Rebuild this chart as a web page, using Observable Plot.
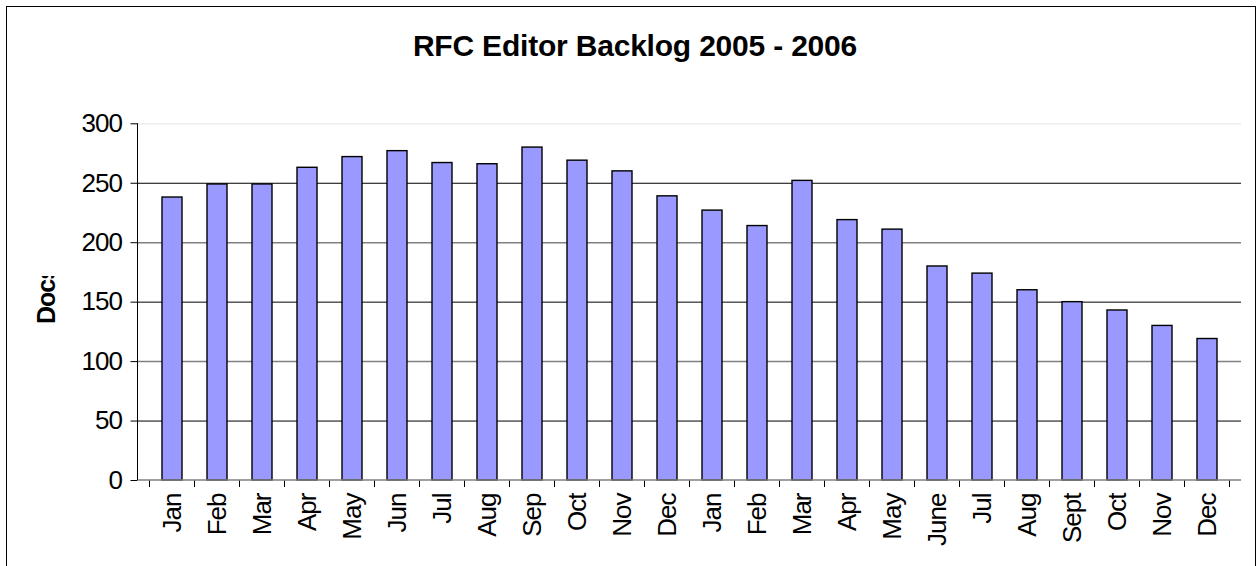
<!DOCTYPE html>
<html><head><meta charset="utf-8">
<script src="https://cdn.jsdelivr.net/npm/d3@7"></script>
<script src="https://cdn.jsdelivr.net/npm/@observablehq/plot@0.6"></script>
<style>
html,body{margin:0;padding:0;background:#fff;overflow:hidden}
#wrap{position:relative;width:1259px;height:566px;font-family:"Liberation Sans",Arial,sans-serif;overflow:hidden}
#frame{position:absolute;left:6px;top:6px;width:1250px;height:620px;border:1.5px solid #000;box-sizing:border-box}
#title{position:absolute;left:0;width:1270px;top:31px;line-height:30px;text-align:center;font-weight:bold;font-size:30px;letter-spacing:-0.2px;color:#000}
#chart{position:absolute;left:0;top:0}
#chart svg text{letter-spacing:-1px}
</style>
</head><body>
<div id="wrap">
  <div id="frame"></div>
  <div id="chart"></div>
  <div id="title">RFC Editor Backlog 2005 - 2006</div>
</div>
<script>
const months2005 = ["Jan","Feb","Mar","Apr","May","Jun","Jul","Aug","Sep","Oct","Nov","Dec"];
const months2006 = ["Jan","Feb","Mar","Apr","May","June","Jul","Aug","Sept","Oct","Nov","Dec"];
const backlog2005 = [238, 249, 249, 263, 272, 277, 267, 266, 280, 269, 260, 239];
const backlog2006 = [227, 214, 252, 219, 211, 180, 174, 160, 150, 143, 130, 119];
const yTicks = [0, 50, 100, 150, 200, 250, 300];
const yLabel = "Docs";

const data = [
  ...months2005.map((m, i) => ({key: "2005-" + m, label: m, value: backlog2005[i]})),
  ...months2006.map((m, i) => ({key: "2006-" + m, label: m, value: backlog2006[i]}))
];
const keys = data.map(d => d.key);
const labelOf = new Map(data.map(d => [d.key, d.label]));

// axis lines and boundary ticks between categories
function axisDecor(index, scales, values, dimensions) {
  const x = scales.x;
  const desc = scales.scales && scales.scales.x;
  const step = desc && desc.step != null ? desc.step : x.step();
  const bw = desc && desc.bandwidth != null ? desc.bandwidth : x.bandwidth();
  const {width, height, marginLeft, marginRight, marginTop, marginBottom} = dimensions;
  const y0 = height - marginBottom;
  const g = d3.create("svg:g");
  const bounds = keys.map(k => x(k) - (step - bw) / 2);
  bounds.push(bounds[bounds.length - 1] + step);
  for (const b of bounds) {
    g.append("line").attr("x1", b).attr("x2", b).attr("y1", y0).attr("y2", y0 + 7)
      .attr("stroke", "#000").attr("stroke-width", 1);
  }
  g.append("line").attr("x1", marginLeft).attr("x2", width - marginRight).attr("y1", y0).attr("y2", y0)
    .attr("stroke", "#808080").attr("stroke-width", 1.5);
  g.append("line").attr("x1", marginLeft).attr("x2", marginLeft).attr("y1", marginTop).attr("y2", y0)
    .attr("stroke", "#000").attr("stroke-width", 1);
  return g.node();
}

const plot = Plot.plot({
  width: 1259,
  height: 566,
  marginLeft: 137.5,
  marginRight: 18,
  marginTop: 123.3,
  marginBottom: 86,
  style: {fontFamily: "'Liberation Sans', Arial, sans-serif", background: "transparent", color: "#000"},
  x: {domain: keys, paddingInner: 0.55, paddingOuter: 0.275, label: null},
  y: {domain: [0, 300], label: null},
  marks: [
    Plot.ruleY(yTicks.filter(v => v === 50 || v === 150 || v === 250), {stroke: "#000", strokeWidth: 1}),
    Plot.ruleY(yTicks.filter(v => v === 100 || v === 200), {stroke: "#808080", strokeWidth: 1.5}),
    Plot.ruleY(yTicks.filter(v => v === 300), {stroke: "#e4e4e4", strokeWidth: 1}),
    Plot.barY(data, {x: "key", y: "value", fill: "#9999ff", stroke: "#000", strokeWidth: 1.4}),
    Plot.axisY({ticks: yTicks, tickSize: 7, tickPadding: 9, fontSize: 26, tickFormat: d => String(d), label: null}),
    Plot.axisX({tickSize: 0, tickPadding: 13, tickRotate: -90, fontSize: 26, tickFormat: k => labelOf.get(k), label: null}),
    axisDecor
  ]
});

const svg = d3.select(plot);
svg.append("defs").append("clipPath").attr("id", "ylabclip")
  .append("rect").attr("x", 0).attr("y", 276).attr("width", 100).attr("height", 100);
svg.append("g")
  .attr("clip-path", "url(#ylabclip)")
  .append("text")
  .attr("transform", "translate(55,324) rotate(-90)")
  .attr("font-size", 25).attr("font-weight", "bold").attr("fill", "#000")
  .attr("text-anchor", "start")
  .style("letter-spacing", "-1px")
  .text(yLabel);

document.getElementById("chart").appendChild(plot);
</script>
</body></html>
